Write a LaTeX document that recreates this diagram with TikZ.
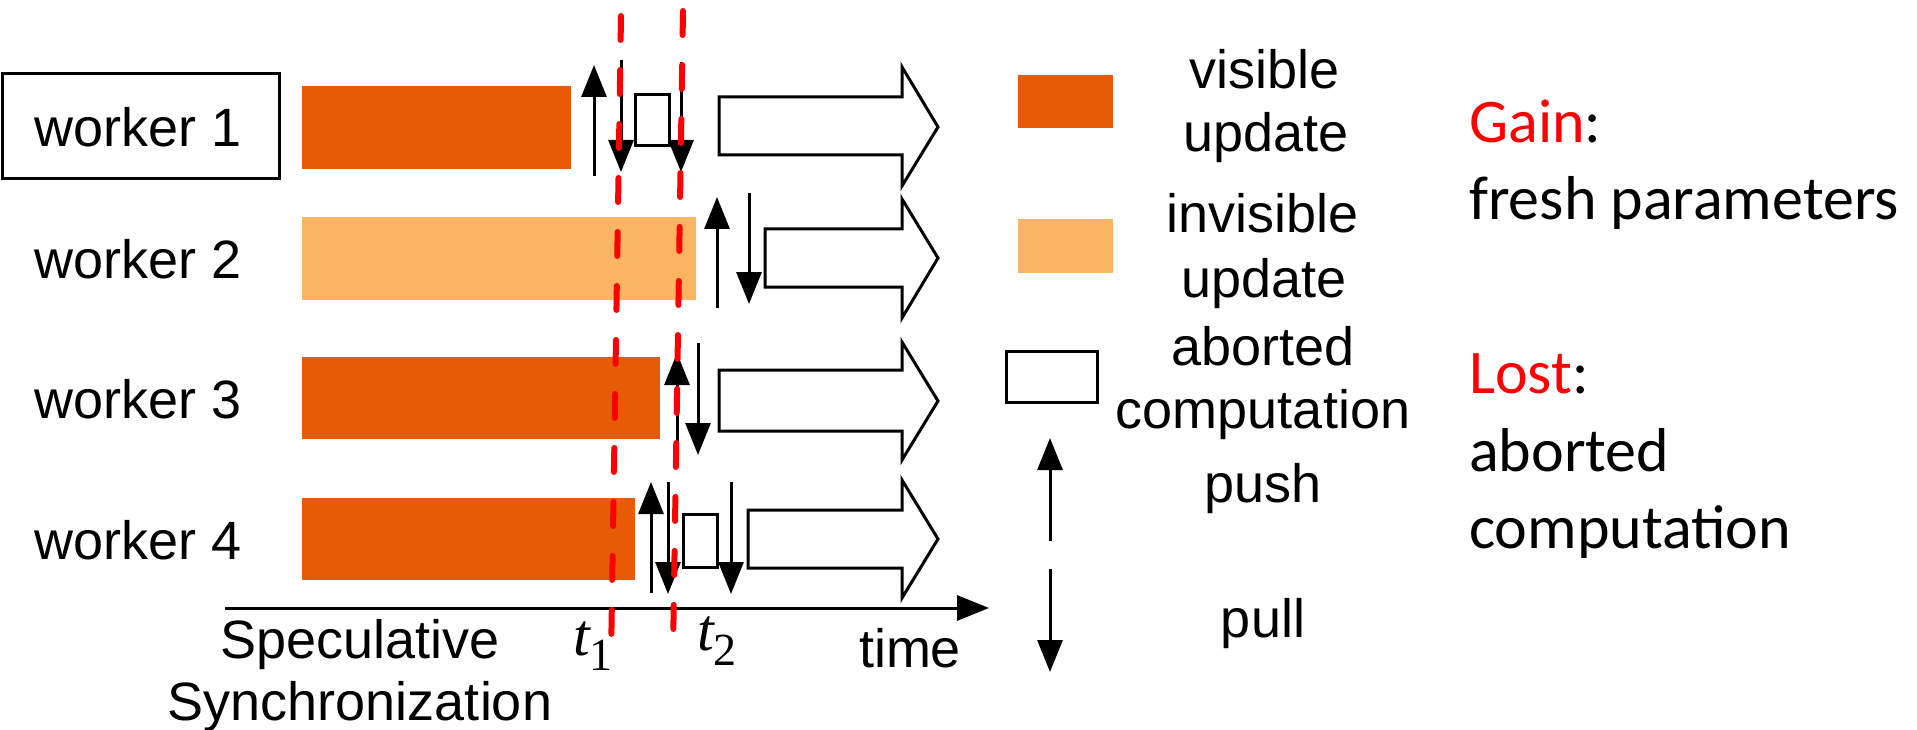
\documentclass[tikz,border=0pt]{standalone}
\usepackage{fontspec}
\setmainfont{Liberation Sans}
\newfontfamily\calfont{Carlito}
\newfontfamily\tmsfont{Liberation Serif}
\usetikzlibrary{arrows.meta}
\definecolor{visorange}{RGB}{229,91,6}
\definecolor{invorange}{RGB}{251,180,98}
\definecolor{redline}{RGB}{255,0,0}
\begin{document}
\begin{tikzpicture}[x=1pt,y=-1pt,
  lbl/.style={font=\fontsize{54}{63}\selectfont, inner sep=0pt, anchor=base},
  rtxt/.style={font=\calfont\fontsize{62}{77}\selectfont, inner sep=0pt, anchor=base west},
  sig/.style={line width=3pt, -{Triangle[length=32pt,width=25pt]}},
  blockarrow/.style={draw, line width=3pt, fill=white, line join=miter},
  abortbox/.style={draw, line width=3pt},
  sync/.style={redline, line width=6pt, line cap=round, dash pattern=on 24pt off 30pt},
  tlabel/.style={font=\tmsfont\itshape\fontsize{60}{64}\selectfont, inner sep=0pt, anchor=base west},
]
\useasboundingbox (0,0) rectangle (1917,730);

% worker labels
\node[draw, line width=3pt, minimum width=277pt, minimum height=105pt, inner sep=0pt] (w1box) at (141,126.5) {};
\node[lbl] (w1) at (138,147) {worker 1};
\node[lbl] (w2) at (138,278) {worker 2};
\node[lbl] (w3) at (138,418) {worker 3};
\node[lbl] (w4) at (138,559) {worker 4};

% bars
\fill[visorange] (302,86) rectangle (571,169);
\fill[invorange] (302,217) rectangle (696,300);
\fill[visorange] (302,357) rectangle (660,439);
\fill[visorange] (302,498) rectangle (635,580);

% worker 1
\draw[sig] (594,176) -- (594,65);
\draw[sig] (621,60) -- (621,172);
\draw[abortbox] (635,95) rectangle (669,146);
\draw[sig] (681,62) -- (681,172);
\draw[blockarrow] (719,97) -- (902,97) -- (902,67) -- (938,127) -- (902,186) -- (902,155) -- (719,155) -- cycle;

% worker 2
\draw[sig] (717,308) -- (717,197);
\draw[sig] (749,193) -- (749,304);
\draw[blockarrow] (765,229) -- (902,229) -- (902,199) -- (938,258) -- (902,318) -- (902,287) -- (765,287) -- cycle;

% worker 3
\draw[sig] (677,466) -- (677,353);
\draw[sig] (698,343) -- (698,455);
\draw[blockarrow] (719,370) -- (902,370) -- (902,342) -- (938,401) -- (902,460) -- (902,431) -- (719,431) -- cycle;

% worker 4
\draw[sig] (651,593) -- (651,482);
\draw[sig] (668,482) -- (668,594);
\draw[abortbox] (683,514) rectangle (717,567);
\draw[sig] (731,482) -- (731,594);
\draw[blockarrow] (748,510) -- (902,510) -- (902,480) -- (938,539) -- (902,598) -- (902,568) -- (748,568) -- cycle;

% time axis
\coordinate (ax0) at (225,608);
\coordinate (ax1) at (989,608);
\draw[line width=3pt, -{Triangle[length=32pt,width=25pt]}] (ax0) -- (ax1);
\node[lbl] (spec1) at (360,658) {Speculative};
\node[lbl] (spec2) at (360,720) {Synchronization};
\node[lbl] (time) at (910,667) {time};
\node[tlabel] (t1) at (573,655) {t\raisebox{-15pt}{\upshape\fontsize{46}{46}\selectfont 1}};
\node[tlabel] (t2) at (697,650) {t\raisebox{-15pt}{\upshape\fontsize{46}{46}\selectfont 2}};

% red sync lines
\draw[sync] (621,16) -- (611,660);
\draw[sync] (683,11) -- (673,652);

% legend
\fill[visorange] (1018,75) rectangle (1113,128);
\node[lbl] (lv1) at (1265,89) {visible};
\node[lbl] (lv2) at (1266,152) {update};
\fill[invorange] (1018,219) rectangle (1113,273);
\node[lbl] (li1) at (1263,233) {invisible};
\node[lbl] (li2) at (1264,297) {update};
\draw[abortbox] (1006,351) rectangle (1097,402);
\node[lbl] (la1) at (1263,365) {aborted};
\node[lbl] (la2) at (1263,428) {computation};
\draw[sig] (1050,541) -- (1050,438);
\node[lbl] (lpush) at (1263,502) {push};
\draw[sig] (1050,569) -- (1050,672);
\node[lbl] (lpull) at (1263,637) {pull};

% right text
\node[rtxt] (gain) at (1469,143) {\textcolor{redline}{Gain}:};
\node[rtxt] (gain2) at (1469,220) {fresh parameters};
\node[rtxt] (lost) at (1469,393) {\textcolor{redline}{Lost}:};
\node[rtxt] (lost2) at (1469,471) {aborted};
\node[rtxt] (lost3) at (1469,548) {computation};
\end{tikzpicture}
\end{document}
